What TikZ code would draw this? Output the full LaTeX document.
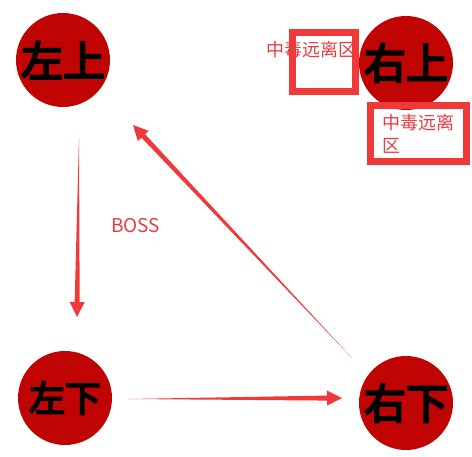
\documentclass[tikz,border=0pt]{standalone}
\usepackage{fontspec}
\setmainfont{Noto Sans CJK SC}
\newfontfamily\brushfont{Noto Sans CJK SC}[FakeBold=5]
\usetikzlibrary{calc}

\definecolor{discred}{RGB}{192,4,4}
\definecolor{markred}{RGB}{240,58,58}
\definecolor{labelred}{RGB}{232,60,66}

% tapered arrow, #1 = start, #2 = tip
\newcommand\taperarrow[2]{%
	\coordinate (head) at ($(#2)!15pt!(#1)$);
	\fill[markred] (#1) -- ($(head)!2.5pt!90:(#2)$) -- ($(head)!7.5pt!90:(#2)$)
		-- (#2) -- ($(head)!7.5pt!-90:(#2)$) -- ($(head)!2.5pt!-90:(#2)$) -- cycle;
}

\begin{document}
\begin{tikzpicture}[x=1pt, y=-1pt,
	every node/.style={text centered},
	disc/.style={circle, fill=discred, minimum size=94pt, inner sep=0pt,
		font=\brushfont\fontsize{42}{42}\selectfont},
	zone/.style={draw=markred, line width=7pt},
	tag/.style={inner sep=0pt, text=labelred, font=\fontsize{18}{23}\selectfont}]
	\useasboundingbox (0, 0) rectangle (472, 456);

	\node[disc] (topleft)  at (63, 60)   {左上};
	\node[disc] (topright) at (406, 63)  {右上};
	\node[disc, font=\brushfont\fontsize{36}{36}\selectfont]
		(botleft) at (65, 398) {左下};
	\node[disc] (botright) at (406, 403) {右下};

	% zones
	\node[tag, anchor=base west] (zonetext) at (266, 56) {中毒远离区};
	\draw[zone] (292.5, 32.5) rectangle (355.5, 91.5);
	\draw[zone] (370.5, 105.5) rectangle (466, 161.5);
	\node[tag, anchor=north west, align=left] (zonebox) at (382, 114)
		{中毒远离\\区};

	\node[tag, anchor=base west, font=\fontsize{19}{19}\selectfont]
		(boss) at (111, 232) {BOSS};

	% route
	\coordinate (a1) at (79, 138);	\coordinate (a1tip) at (77, 317);
	\coordinate (a2) at (128, 399);	\coordinate (a2tip) at (342, 398);
	\coordinate (a3) at (352, 358);	\coordinate (a3tip) at (133, 125);
	\taperarrow{a1}{a1tip}
	\taperarrow{a2}{a2tip}
	\taperarrow{a3}{a3tip}
\end{tikzpicture}
\end{document}
